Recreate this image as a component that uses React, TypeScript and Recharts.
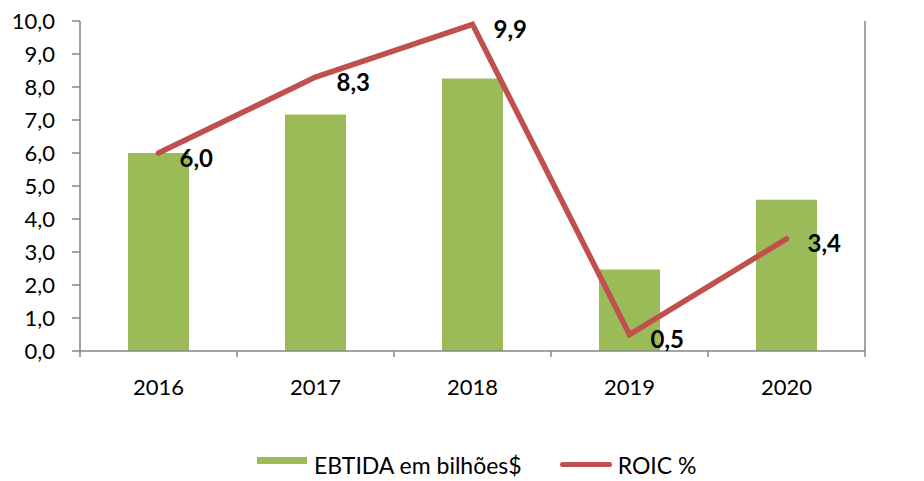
import { ComposedChart, Bar, Line, XAxis, YAxis, Legend, LabelList } from "recharts";

const YEARS = ["2016", "2017", "2018", "2019", "2020"];
const EBITDA = [6.0, 7.17, 8.26, 2.47, 4.58];
const ROIC = [6.0, 8.3, 9.9, 0.5, 3.4];
const LEFT_TICKS = [0, 1, 2, 3, 4, 5, 6, 7, 8, 9, 10];
const RIGHT_TICKS = [0, 10, 20, 30, 40, 50, 60, 70];

const GREEN = "#9BBB59";
const RED = "#C0504D";
const AXIS = "#868686";
const FONT = "Lato, 'Noto Sans', sans-serif";
const X_TICK_MARGIN = 29;

const data = YEARS.map((year, i) => ({ year, ebitda: EBITDA[i], roic: ROIC[i] }));

const comma = (v: number) => v.toFixed(1).replace(".", ",");

function YearTick(props: any) {
  const { x, y, payload, index } = props;
  const half = payload?.offset ?? 78.5;
  const axisY = y - X_TICK_MARGIN;
  return (
    <g>
      <line x1={x - half} x2={x - half} y1={axisY} y2={axisY + 6} stroke={AXIS} strokeWidth={1.5} />
      {index === YEARS.length - 1 && (
        <line x1={x + half} x2={x + half} y1={axisY} y2={axisY + 6} stroke={AXIS} strokeWidth={1.5} />
      )}
      <text x={x} y={y} dy="0.7em" textAnchor="middle" fill="#000" fontSize={22} fontFamily={FONT}>
        {payload.value}
      </text>
    </g>
  );
}

function RoicLabel(props: any) {
  const x = props.x ?? props.viewBox?.x;
  const y = props.y ?? props.viewBox?.y;
  return (
    <text x={x + 21} y={y + 4} dominantBaseline="central" fontWeight="bold" fontSize={24}
      fontFamily={FONT} fill="#000">
      {comma(props.value)}
    </text>
  );
}

function LegendContent(props: any) {
  const items = props.payload || [];
  return (
    <div style={{ display: "flex", alignItems: "flex-start", marginLeft: 257, fontFamily: FONT,
      fontSize: 23, lineHeight: "24px", color: "#000" }}>
      {items.map((it: any, i: number) => (
        <div key={i} style={{ display: "flex", alignItems: "flex-start", marginLeft: i === 0 ? 0 : 38 }}>
          {it.type === "line" ? (
            <span style={{ width: 52, height: 5, background: RED, borderRadius: 3, marginTop: 9 }} />
          ) : (
            <span style={{ width: 50, height: 7, background: GREEN, marginTop: 4 }} />
          )}
          <span style={{ marginLeft: it.type === "line" ? 6 : 7 }}>{it.value}</span>
        </div>
      ))}
    </div>
  );
}

export default function App() {
  return (
    <div style={{ position: "absolute", left: 0, top: 0, background: "#fff" }}>
      <ComposedChart width={924} height={481} data={data}
        margin={{ top: 21, right: 0, bottom: 80, left: 0 }}>
        <XAxis dataKey="year" xAxisId="x" height={50} tickSize={0} tickMargin={X_TICK_MARGIN}
          tickLine={false} axisLine={{ stroke: AXIS, strokeWidth: 1.5 }} tick={<YearTick />}
          interval={0} />
        <YAxis yAxisId="left" width={80} domain={[0, 10]} ticks={LEFT_TICKS} tickFormatter={comma}
          tickSize={8} tickMargin={17} axisLine={{ stroke: AXIS, strokeWidth: 1.5 }}
          tickLine={{ stroke: AXIS, strokeWidth: 1.5 }}
          tick={{ fill: "#000", fontSize: 22, fontFamily: FONT }} interval={0} />
        <YAxis yAxisId="right" orientation="right" width={59} domain={[0, 70]} ticks={RIGHT_TICKS}
          tickFormatter={(v: number) => (v === 0 ? "-" : String(v))}
          tickSize={8} tickMargin={24} axisLine={{ stroke: AXIS, strokeWidth: 1.5 }}
          tickLine={{ stroke: AXIS, strokeWidth: 1.5 }}
          tick={{ fill: "#000", fontSize: 22, fontFamily: FONT, textAnchor: "start" }} interval={0} />
        <Legend layout="horizontal" verticalAlign="middle" align="center"
          wrapperStyle={{ top: 453, left: 0, width: 924 }} content={<LegendContent />} />
        <Bar dataKey="ebitda" name="EBTIDA em bilhões$" xAxisId="x" yAxisId="left" fill={GREEN}
          barSize={61} isAnimationActive={false} legendType="rect" />
        <Line dataKey="roic" name="ROIC %" xAxisId="x" yAxisId="left" stroke={RED} strokeWidth={5.5}
          strokeLinecap="round" dot={false} activeDot={false} isAnimationActive={false} legendType="line">
          <LabelList dataKey="roic" content={<RoicLabel />} />
        </Line>
      </ComposedChart>
    </div>
  );
}
